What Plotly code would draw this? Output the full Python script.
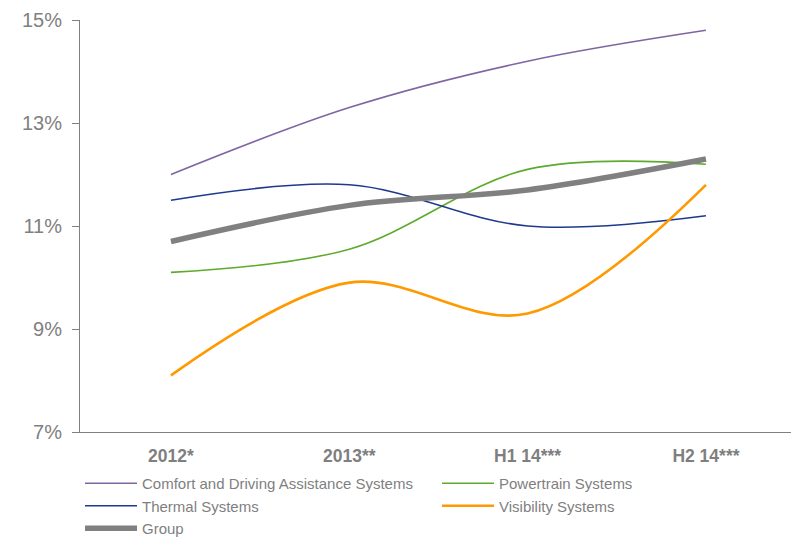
import plotly.graph_objects as go

categories = ["2012*", "2013**", "H1 14***", "H2 14***"]
comfort = [12.0, 13.3, 14.2, 14.8]
powertrain = [10.1, 10.55, 12.1, 12.2]
thermal = [11.5, 11.8, 11.0, 11.2]
visibility = [8.1, 9.9, 9.3, 11.8]
group = [10.7, 11.4, 11.7, 12.3]
y_ticks = [7, 9, 11, 13, 15]
y_ticktext = ["7%", "9%", "11%", "13%", "15%"]

series = [
    ("Comfort and Driving Assistance Systems", comfort, "#8064A2", 1.6),
    ("Powertrain Systems", powertrain, "#5DAA2C", 1.6),
    ("Thermal Systems", thermal, "#1F3A8C", 1.6),
    ("Visibility Systems", visibility, "#FF9900", 2.6),
    ("Group", group, "#808080", 5.5),
]

fig = go.Figure()
for name, vals, color, width in series:
    fig.add_trace(go.Scatter(
        x=categories, y=vals, name=name, mode="lines",
        line=dict(color=color, width=width, shape="spline", smoothing=1.0),
    ))

fig.update_layout(
    width=791, height=538,
    margin=dict(l=80, r=0, t=20, b=106, autoexpand=False),
    plot_bgcolor="white", paper_bgcolor="white",
    font=dict(family="Liberation Sans, Arial, sans-serif", color="#7F7F7F"),
    showlegend=True,
    legend=dict(
        orientation="h", x=0.0, xanchor="left", y=-0.085, yanchor="top",
        entrywidth=290, entrywidthmode="pixels", itemwidth=52,
        font=dict(size=15, color="#7F7F7F"), traceorder="normal",
        bgcolor="rgba(0,0,0,0)",
    ),
)
fig.update_xaxes(
    type="category", range=[-0.51, 3.477],
    showline=True, linecolor="#808080", linewidth=1,
    showgrid=False, ticks="", zeroline=False, ticklabelstandoff=8,
    tickfont=dict(size=17.5, color="#7F7F7F", family="Liberation Sans, Arial, sans-serif", weight="bold"),
)
fig.update_yaxes(
    range=[7, 15], tickvals=y_ticks, ticktext=y_ticktext,
    showline=True, linecolor="#808080", linewidth=1,
    showgrid=False, ticks="outside", ticklen=7, tickcolor="#808080",
    ticklabelstandoff=6, zeroline=False,
    tickfont=dict(size=20, color="#808080"),
)

fig.write_html("out.html")
